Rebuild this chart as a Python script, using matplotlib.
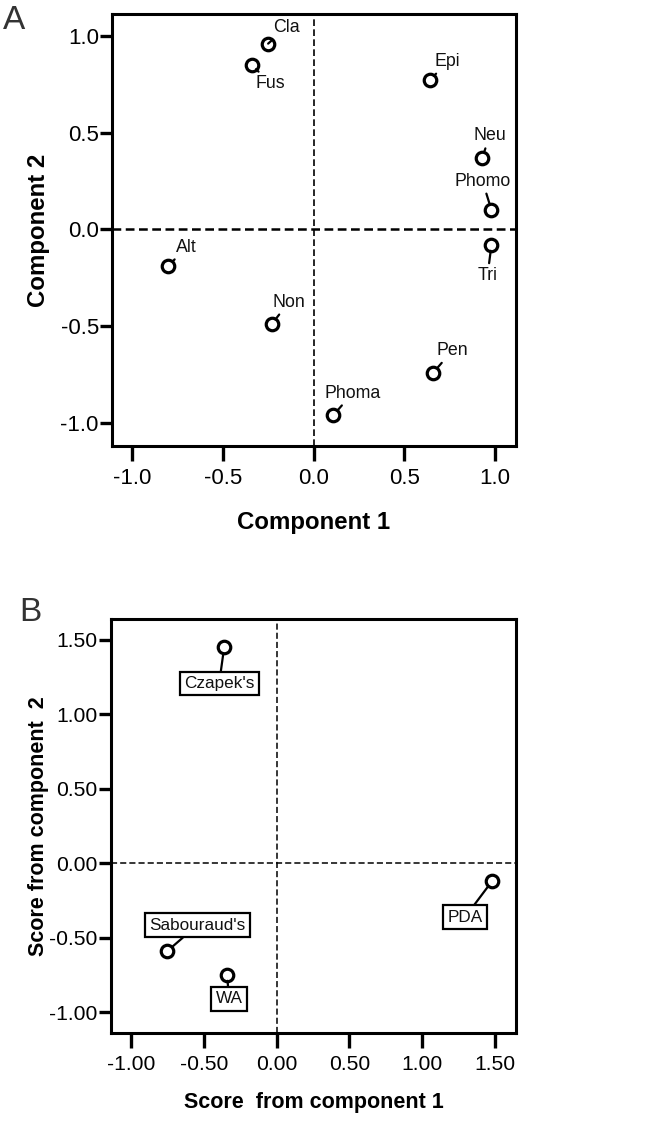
import matplotlib
matplotlib.use("Agg")
import matplotlib.pyplot as plt

# Panel A: component loadings of the fungal genera
genera = ['Cla', 'Fus', 'Epi', 'Neu', 'Phomo', 'Tri', 'Alt', 'Non', 'Pen', 'Phoma']
comp1 = [-0.25, -0.34, 0.64, 0.93, 0.98, 0.98, -0.80, -0.23, 0.66, 0.11]
comp2 = [0.96, 0.85, 0.77, 0.37, 0.10, -0.08, -0.19, -0.49, -0.74, -0.96]

# Panel B: scores of the culture media
media = ["Czapek's", "Sabouraud's", 'WA', 'PDA']
score1 = [-0.36, -0.75, -0.34, 1.48]
score2 = [1.45, -0.59, -0.75, -0.12]

ticks_a = [-1.0, -0.5, 0.0, 0.5, 1.0]
ticks_b = [-1.0, -0.5, 0.0, 0.5, 1.0, 1.5]

# label placement (pixels from the point)
offs_a = {'Cla': (18, 16), 'Fus': (19, -19), 'Epi': (18, 19), 'Neu': (7, 22),
          'Phomo': (-9, 29), 'Tri': (-4, -31), 'Alt': (18, 19), 'Non': (17, 22),
          'Pen': (19, 22), 'Phoma': (19, 22)}
offs_b = {"Czapek's": (-5, -36), "Sabouraud's": (30, 26), 'WA': (2, -24), 'PDA': (-27, -36)}

FONT = ['Liberation Sans', 'DejaVu Sans']


def style_axes(ax, xticks, yticks, fmt, size):
    for s in ax.spines.values():
        s.set_linewidth(2.2)
    ax.set_xticks(xticks)
    ax.set_yticks(yticks)
    ax.set_xticklabels([fmt.format(t) for t in xticks], family=FONT, fontsize=size)
    ax.set_yticklabels([fmt.format(t) for t in yticks], family=FONT, fontsize=size)
    ax.tick_params(axis='x', length=11, width=2.4, pad=5, direction='out')
    ax.tick_params(axis='y', length=8.5, width=2.4, pad=1, direction='out')


fig = plt.figure(figsize=(6.51, 11.23), dpi=100)

# ---------------- panel A ----------------
axA = fig.add_axes([0.172, 0.6028, 0.6206, 0.3847])
axA.axhline(0, color='black', lw=1.8, ls=(0, (3.5, 1.8)), zorder=1)
axA.axvline(0, color='black', lw=1.2, ls=(0, (4, 2)), zorder=1)
axA.plot(comp1, comp2, 'o', ms=9, mfc='none', mec='black', mew=2.3, zorder=3)
for name, x, y in zip(genera, comp1, comp2):
    axA.annotate(name, (x, y), xytext=offs_a[name], textcoords='offset pixels',
                 ha='center', va='center', family=FONT, fontsize=12.8, color='#111111',
                 arrowprops=dict(arrowstyle='-', color='black', lw=1.6,
                                 shrinkA=1, shrinkB=4.3))
axA.set_xlim(-1.11, 1.115)
axA.set_ylim(-1.12, 1.113)
style_axes(axA, ticks_a, ticks_a, '{:.1f}', 16)
axA.set_xlabel('Component 1', fontsize=17.3, fontweight='bold', family=FONT, va='center')
axA.set_ylabel('Component 2', fontsize=17.3, fontweight='bold', family=FONT, va='center')
axA.xaxis.set_label_coords(0.5, -0.178)
axA.yaxis.set_label_coords(-0.183, 0.5)
fig.text(0.005, 0.982, 'A', fontsize=24, family=FONT, color='#333333', va='center')

# ---------------- panel B ----------------
axB = fig.add_axes([0.1705, 0.0801, 0.6221, 0.3687])
axB.axhline(0, color='black', lw=1.1, ls=(0, (4, 2)), zorder=1)
axB.axvline(0, color='black', lw=1.1, ls=(0, (4, 2)), zorder=1)
axB.plot(score1, score2, 'o', ms=9, mfc='none', mec='black', mew=2.3, zorder=3)
for name, x, y in zip(media, score1, score2):
    axB.annotate(name, (x, y), xytext=offs_b[name], textcoords='offset pixels',
                 ha='center', va='center', family=FONT, fontsize=12.3, color='#111111',
                 bbox=dict(boxstyle='square,pad=0.25', fc='white', ec='black', lw=1.6),
                 arrowprops=dict(arrowstyle='-', color='black', lw=1.6,
                                 shrinkA=0, shrinkB=4.3))
axB.set_xlim(-1.137, 1.644)
axB.set_ylim(-1.141, 1.641)
style_axes(axB, ticks_b, ticks_b, '{:.2f}', 15.2)
axB.set_xlabel('Score  from component 1', fontsize=15.5, fontweight='bold', family=FONT, va='center')
axB.set_ylabel('Score from component  2', fontsize=15.5, fontweight='bold', family=FONT, va='center')
axB.xaxis.set_label_coords(0.5, -0.167)
axB.yaxis.set_label_coords(-0.178, 0.5)
fig.text(0.03, 0.455, 'B', fontsize=24, family=FONT, color='#333333', va='center')

fig.savefig('out.png', dpi=100)
